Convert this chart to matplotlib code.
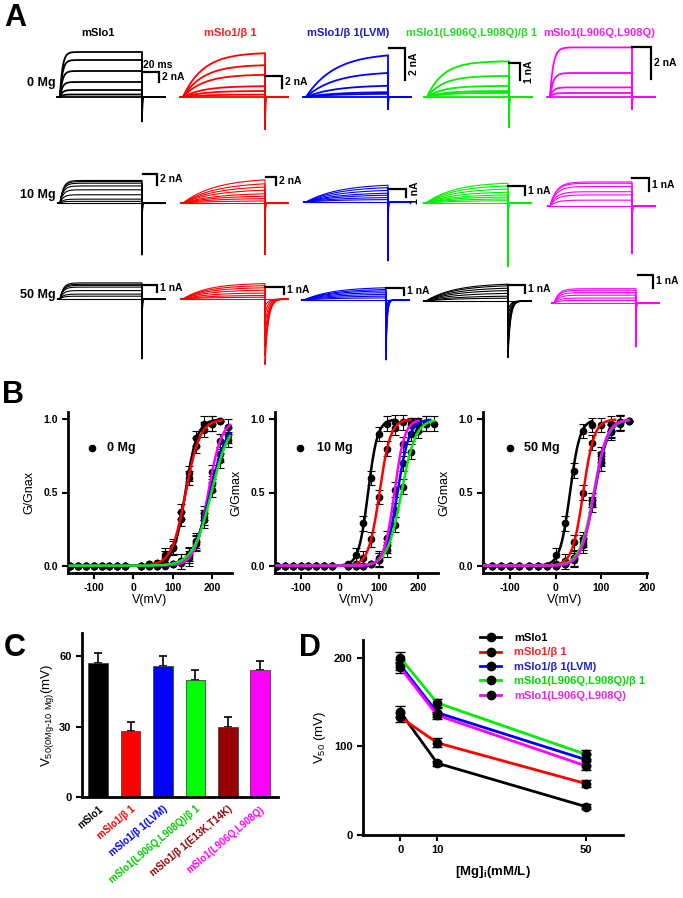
import numpy as np
import matplotlib.pyplot as plt
from matplotlib.lines import Line2D

plt.rcParams['font.family'] = ['Liberation Sans', 'DejaVu Sans']
plt.rcParams['axes.unicode_minus'] = False

W, H = 683, 898
fig = plt.figure(figsize=(W / 100, H / 100), dpi=100)


def px_axes(x0, y0, x1, y1):
    # axes placed by pixel box (y measured from the top)
    return fig.add_axes([x0 / W, 1 - y1 / H, (x1 - x0) / W, (y1 - y0) / H])


# ---------------- data ----------------
names = ['mSlo1', 'mSlo1/β 1', 'mSlo1/β 1(LVM)', 'mSlo1(L906Q,L908Q)/β 1', 'mSlo1(L906Q,L908Q)']
line_colors = ['black', '#ff0000', '#0000ff', '#00ee00', '#ff00ff']
title_colors = ['black', '#ff2020', '#1a1acc', '#22dd22', '#ee22ee']
mg_rows = ['0 Mg', '10 Mg', '50 Mg']

# A: current traces, end-of-pulse amplitude (nA), activation tau (ms), tail (nA), tail tau (ms)
amp_0mg = [[9, 7.4, 5.2, 3, 1.4, 0.5], [7.3, 5.3, 3.7, 1.8, 1.0, 0.4], [2.6, 1.5, 0.7, 0.3, 0.2],
           [2.1, 1.24, 0.65, 0.35, 0.24], [3.1, 1.5, 0.6, 0.25]]
amp_10mg = [[4.1, 3.9, 3.6, 3.1, 2.4, 1.5, 0.7, 0.3], [5.8, 4.8, 4, 3.2, 2.3, 1.7, 1.1, 0.5],
            [2.1, 1.8, 1.45, 1.1, 0.85, 0.55, 0.3], [2.2, 1.9, 1.55, 1.2, 0.9, 0.67, 0.45, 0.25],
            [1.85, 1.75, 1.5, 1.1, 0.85, 0.45]]
amp_50mg = [[2.3, 2.1, 1.95, 1.7, 1.2, 0.7, 0.4], [2.2, 1.9, 1.6, 1.25, 0.85, 0.5, 0.25],
            [1.75, 1.5, 1.3, 1.05, 0.8, 0.55, 0.3], [2.1, 1.9, 1.6, 1.3, 0.95, 0.6, 0.35],
            [1.1, 0.98, 0.8, 0.6, 0.38, 0.2]]
tau_a = [[3, 25, 35, 20, 4], [4, 40, 40, 35, 8], [4, 30, 35, 35, 6]]
tail_a = [[5, 5.5, 0.8, 1.8, 0.8], [9.5, 13, 7.4, 7.1, 3.7], [8.6, 9.4, 8.6, 7.1, 3.4]]
tail_tau = [[0.3, 0.3, 0.3, 0.3, 0.3], [0.3, 0.3, 0.3, 0.3, 0.3], [0.3, 4, 1.5, 3, 0.3]]
bar_na = [[2, 2, 2, 1, 2], [2, 2, 1, 1, 1], [1, 1, 1, 1, 1]]
amps = [amp_0mg, amp_10mg, amp_50mg]

# B: G/Gmax-V
v_a = [-160, -140, -120, -100, -80, -60, -40, -20, 20, 40, 60, 80, 100, 120, 140, 160, 180, 200, 220, 240]
v_c = [-160, -140, -120, -100, -80, -60, -40, -20, 0, 20, 40, 60, 80, 100, 120, 140, 160]
nan = np.nan
z8 = [0] * 8
g_0mg = [z8 + [0, 0.01, 0.02, 0.07, 0.12, 0.37, 0.63, 0.87, 0.97, 0.97, 0.99, nan],
         z8 + [0, 0.01, 0.02, 0.05, 0.13, 0.32, 0.6, 0.82, 0.93, 0.97, 0.99, nan],
         z8 + [0, 0, 0, 0.01, 0.01, 0.03, 0.08, 0.17, 0.33, 0.56, 0.76, 0.89],
         z8 + [0, 0, 0, 0.01, 0.01, 0.03, 0.07, 0.16, 0.31, 0.52, 0.72, 0.86],
         z8 + [0, 0, 0, 0, 0.01, 0.02, 0.05, 0.15, 0.36, 0.64, 0.85, 0.95]]
g_10mg = [z8 + [0.01, 0.07, 0.29, 0.6, 0.9, 0.97, 0.98, nan, nan, nan, nan, nan],
          z8 + [0, 0.01, 0.05, 0.18, 0.47, 0.8, 0.94, 0.98, 0.99, nan, nan, nan],
          z8 + [0, 0, 0, 0.01, 0.04, 0.14, 0.38, 0.7, 0.9, 0.96, 0.97, nan],
          z8 + [0, 0, 0, 0.01, 0.04, 0.11, 0.28, 0.54, 0.78, 0.92, 0.97, 0.97],
          z8 + [0, 0, 0, 0.01, 0.05, 0.19, 0.52, 0.83, 0.96, 0.99, nan, nan]]
g_50mg = [z8 + [0.07, 0.29, 0.65, 0.92, 0.96, nan, nan, nan, nan],
          z8 + [0.01, 0.03, 0.16, 0.5, 0.84, 0.96, 0.97, 0.98, nan],
          z8 + [0, 0.01, 0.05, 0.16, 0.42, 0.73, 0.91, 0.97, 0.99],
          z8 + [0, 0.01, 0.05, 0.18, 0.45, 0.76, 0.92, 0.98, 0.99],
          z8 + [0, 0.01, 0.04, 0.14, 0.45, 0.7, 0.93, 0.98, 0.99]]
g_sem = 0.05
fit_v50 = [[132, 133, 195, 198, 190], [72, 101, 147, 157, 139], [31, 60, 85, 83, 84]]
fit_k = [[15, 18, 22, 23, 17], [12, 14, 15, 18, 13], [11, 12, 15, 15, 14]]
fit_vmax = [[220, 225, 245, 245, 245], [140, 180, 230, 240, 200], [80, 130, 160, 160, 160]]

# C: shift of V50 between 0 and 10 Mg
c_names = ['mSlo1', 'mSlo1/β 1', 'mSlo1/β 1(LVM)', 'mSlo1(L906Q,L908Q)/β 1',
           'mSlo1/β 1(E13K,T14K)', 'mSlo1(L906Q,L908Q)']
c_vals = [57, 28, 56, 50, 30, 54]
c_err = [4.5, 4, 4, 4, 4, 4]
c_colors = ['black', '#ff0000', '#0000ff', '#00ff00', '#990000', '#ff00ff']
c_text_colors = ['black', '#ff0000', '#0000ff', '#00cc00', '#990000', '#ff00ff']

# D: V50 vs [Mg]i
d_mg = [0, 10, 50]
d_v50 = [[139, 81, 32], [133, 104, 58], [192, 138, 85], [200, 149, 91], [189, 135, 78]]
d_err = [[6, 3, 3], [5, 5, 4], [6, 5, 6], [6, 5, 5], [6, 4, 5]]
d_text_colors = ['black', '#ff2020', '#2222cc', '#00dd00', '#ee22ee']

# ---------------- panel A ----------------
PPMS = 0.82
cell_x = [[60, 183, 306, 427, 550], [60, 183, 306, 426, 550], [60, 183, 304, 426, 554]]
cell_base = [[97] * 5, [203, 203, 202, 203, 206], [299, 299, 300, 301, 303]]
ppn = [[5, 6, 16, 17, 16], [5.5, 4, 8, 9, 13], [7, 7, 7, 8, 13]]
bar_top = [[25, 21, 49, 34, 50], [29, 26, 13, 17, 28], [14, 12, 12, 16, 28]]
bar_w = [[16, 17, 16, 11, 19], [14, 10, 18, 17, 17], [15, 19, 18, 17, 15]]
bar_gap = [[1, 0, 1, 0, 0], [1, 1, 0, 0, 0], [0, 0, 0, 0, 2]]
bar_rot = [[0, 0, 1, 1, 0], [0, 0, 1, 0, 0], [0, 0, 0, 0, 0]]
row_colors = [line_colors, line_colors, ['black', '#ff0000', '#0000ff', 'black', '#ff00ff']]
title_x = [98, 230, 348, 471, 599]

t_pre = np.array([-3.0, 0.0])
t_on = np.linspace(0, 100, 200)
t_off = np.linspace(100, 128, 400)

for r in range(3):
    for c in range(5):
        x0, base, k = cell_x[r][c], cell_base[r][c], ppn[r][c]
        ax = px_axes(x0 - 10, base - 70, x0 + 130, base + 75)
        ax.set_xlim(-10 / PPMS, 130 / PPMS)
        ax.set_ylim(-75 / k, 70 / k)
        ax.axis('off')
        col = row_colors[r][c]
        lw = 1.3 if r == 0 else 0.8
        a_list = amps[r][c]
        amax = max(a_list)
        tau = tau_a[r][c]
        for a in a_list + [0]:
            rise = a * (1 - np.exp(-t_on / tau)) / (1 - np.exp(-100 / tau))
            tail = -tail_a[r][c] * a / amax * np.exp(-(t_off - 100) / tail_tau[r][c])
            t = np.concatenate([t_pre, t_on, t_off])
            y = np.concatenate([[0, 0], rise, tail])
            ax.plot(t, y, color=col, lw=lw, solid_joinstyle='miter')
        # scale bar
        bx0 = 100 + bar_gap[r][c] / PPMS
        bx1 = bx0 + bar_w[r][c] / PPMS
        btop = bar_top[r][c] / k
        bbot = btop - bar_na[r][c]
        ax.plot([bx0, bx1, bx1], [btop, btop, bbot], color='black', lw=1.6,
                clip_on=False, solid_joinstyle='miter')
        lab = '%d nA' % bar_na[r][c]
        if bar_rot[r][c]:
            ax.text(bx1 + 9 / PPMS, (btop + bbot) / 2, lab, rotation=90, ha='center',
                    va='center', fontsize=7.5, fontweight='bold', clip_on=False)
        else:
            ax.text(bx1 + 3 / PPMS, (btop + bbot) / 2, lab, ha='left', va='center',
                    fontsize=7.5, fontweight='bold', clip_on=False)
        if r == 0 and c == 0:
            ax.text(bx0, btop + 2 / k, '20 ms', ha='left', va='bottom', fontsize=7.5,
                    fontweight='bold', clip_on=False)

for c in range(5):
    fig.text(title_x[c] / W, 1 - 33 / H, names[c], color=title_colors[c], ha='center',
             va='center', fontsize=8, fontweight='bold')

row_label_y = [83, 195, 295]
for r in range(3):
    fig.text(56 / W, 1 - row_label_y[r] / H, mg_rows[r], ha='right', va='center',
             fontsize=9, fontweight='bold')

# ---------------- panel B ----------------
b_box = [(68, 232), (275, 438), (483, 647)]
b_xlim = [(-165, 250), (-165, 250), (-160, 200)]
b_v = [v_a, v_a, v_c]
b_g = [g_0mg, g_10mg, g_50mg]
b_order = [[0, 1, 4, 2, 3], [0, 1, 2, 3, 4], [0, 1, 2, 3, 4]]
b_ylab = ['G/Gnax', 'G/Gmax', 'G/Gmax']
b_leg = [(0.146, 0.238), (0.153, 0.258), (0.165, 0.25)]

for p in range(3):
    ax = px_axes(b_box[p][0], 412, b_box[p][1], 573)
    v = np.array(b_v[p], dtype=float)
    for s in range(5):
        g = np.array(b_g[p][s], dtype=float)
        err = np.where((g > 0.02) & (g < 0.99), g_sem, 0)
        ax.errorbar(v, g, yerr=err, fmt='o', color='black', ms=4.5, capsize=3,
                    elinewidth=0.8, capthick=0.8, zorder=2)
    for s in b_order[p]:
        vf = np.linspace(-160, fit_vmax[p][s], 300)
        ax.plot(vf, 1 / (1 + np.exp((fit_v50[p][s] - vf) / fit_k[p][s])),
                color=line_colors[s], lw=1.8, zorder=3)
    ax.set_xlim(*b_xlim[p])
    ax.set_ylim(-0.05, 1.05)
    ax.set_xticks([-100, 0, 100, 200])
    ax.set_yticks([0, 0.5, 1.0])
    ax.set_yticklabels(['0.0', '0.5', '1.0'])
    for sp in ['top', 'right']:
        ax.spines[sp].set_visible(False)
    for sp in ['left', 'bottom']:
        ax.spines[sp].set_linewidth(2)
    ax.tick_params(direction='out', length=4, width=1.5, labelsize=7.5, pad=3)
    for lab in ax.get_xticklabels() + ax.get_yticklabels():
        lab.set_fontweight('bold')
    ax.set_xlabel('V(mV)', fontsize=9, labelpad=1)
    ax.set_ylabel(b_ylab[p], fontsize=9, labelpad=6)
    ax.plot([b_leg[p][0]], [0.776], 'o', color='black', ms=4.5, transform=ax.transAxes,
            clip_on=False)
    ax.text(b_leg[p][1], 0.776, mg_rows[p], transform=ax.transAxes, ha='left',
            va='center', fontsize=9, fontweight='bold')

# ---------------- panel C ----------------
axc = px_axes(82, 633, 278, 797)
xc = np.arange(len(c_vals))
axc.bar(xc, c_vals, width=0.6, color=c_colors, edgecolor='#444444', lw=0.6, zorder=2)
axc.errorbar(xc, c_vals, yerr=[np.zeros(len(c_err)), c_err], fmt='none', ecolor='black',
             capsize=3, elinewidth=1.2, capthick=1.2, zorder=1)
axc.set_xlim(-0.5, 5.55)
axc.set_ylim(0, 70)
axc.set_yticks([0, 30, 60])
axc.set_xticks(xc)
axc.set_xticklabels(c_names, rotation=40, ha='right', rotation_mode='anchor',
                    fontsize=7, fontweight='bold')
for lab, col in zip(axc.get_xticklabels(), c_text_colors):
    lab.set_color(col)
for lab in axc.get_yticklabels():
    lab.set_fontweight('bold')
for sp in ['top', 'right']:
    axc.spines[sp].set_visible(False)
for sp in ['left', 'bottom']:
    axc.spines[sp].set_linewidth(2)
axc.tick_params(axis='y', direction='out', length=4, width=1.5, labelsize=8)
axc.tick_params(axis='x', length=0, pad=5)
axc.set_ylabel(r'V$_{\mathregular{50(0Mg\text{-}10\ Mg)}}$(mV)', fontsize=9.5, labelpad=2)

# ---------------- panel D ----------------
axd = px_axes(363, 640, 623, 835)
for s in range(5):
    axd.errorbar(d_mg, d_v50[s], yerr=d_err[s], color=line_colors[s], lw=2, marker='o',
                 mfc='black', mec='black', ms=6, ecolor='black', elinewidth=1,
                 capsize=3.5, capthick=1)
axd.set_xlim(-10, 60)
axd.set_ylim(0, 220)
axd.set_xticks(d_mg)
axd.set_yticks([0, 100, 200])
for sp in ['top', 'right']:
    axd.spines[sp].set_visible(False)
for sp in ['left', 'bottom']:
    axd.spines[sp].set_linewidth(2)
axd.tick_params(direction='out', length=4, width=1.5, labelsize=8)
for lab in axd.get_xticklabels() + axd.get_yticklabels():
    lab.set_fontweight('bold')
axd.set_ylabel(r'V$_{\mathregular{50}}$ (mV)', fontsize=9.5, labelpad=4)
axd.set_xlabel(r'[Mg]$_{\mathregular{i}}$(mM/L)', fontsize=9.5, fontweight='bold', labelpad=6)
handles = [Line2D([0], [0], color=line_colors[s], lw=2, marker='o', mfc='black',
                  mec='black', ms=6) for s in range(5)]
leg = axd.legend(handles, names, loc='upper left', bbox_to_anchor=(480 / W, 1 - 633 / H),
                 bbox_transform=fig.transFigure, frameon=False, fontsize=8,
                 handlelength=1.9, handletextpad=1.2, labelspacing=0.4, borderpad=0,
                 borderaxespad=0)
for txt, col in zip(leg.get_texts(), d_text_colors):
    txt.set_color(col)
    txt.set_fontweight('bold')

# panel letters
for letter, (lx, ly) in zip('ABCD', [(4, 3), (2, 380), (4, 633), (299, 633)]):
    fig.text(lx / W, 1 - ly / H, letter, ha='left', va='top', fontsize=22, fontweight='bold')

fig.savefig('out.png', dpi=100)
